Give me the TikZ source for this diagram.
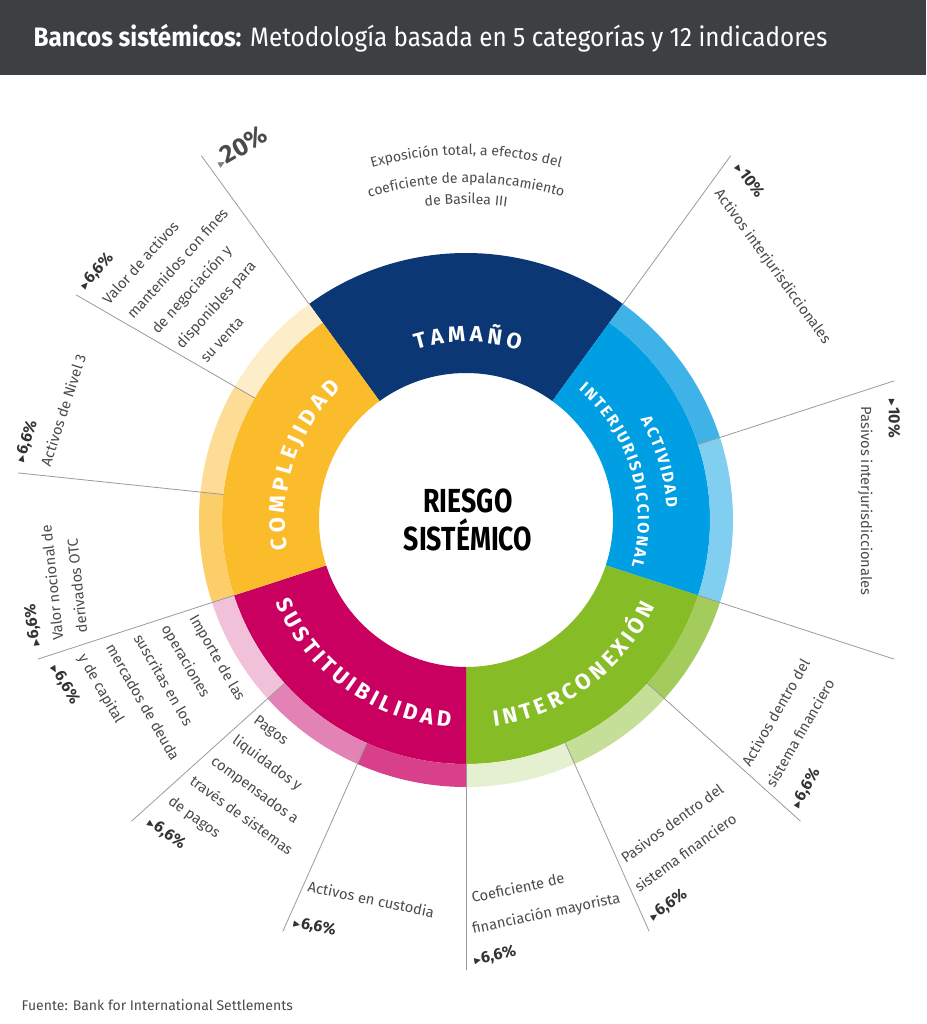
\documentclass[tikz,border=0pt]{standalone}
\usepackage{fontspec}
\usepackage{amssymb}
\setmainfont{Fira Sans}
\newfontfamily\titlefont[FakeStretch=0.91]{Fira Sans}
\newfontfamily\narrowfont[FakeStretch=0.8]{Fira Sans}
\usetikzlibrary{decorations.text}
\definecolor{barra}{HTML}{3D4043}
\definecolor{tamano}{HTML}{0C3775}
\definecolor{activ}{HTML}{009FE3}
\definecolor{activA}{HTML}{3FB2E8}
\definecolor{activB}{HTML}{80CEF0}
\definecolor{inter}{HTML}{86BC25}
\definecolor{interA}{HTML}{A3CC5C}
\definecolor{interB}{HTML}{C5DF99}
\definecolor{interC}{HTML}{E4F0D0}
\definecolor{sust}{HTML}{C9005F}
\definecolor{sustA}{HTML}{D9408C}
\definecolor{sustB}{HTML}{E383B5}
\definecolor{sustC}{HTML}{F0C1D9}
\definecolor{compl}{HTML}{FBBC2C}
\definecolor{complA}{HTML}{FCCE6A}
\definecolor{complB}{HTML}{FDDD95}
\definecolor{complC}{HTML}{FEEDC9}
\definecolor{texto}{HTML}{4A4A4A}
\definecolor{oscuro}{HTML}{333333}
\definecolor{linea}{HTML}{9A9A9A}
\newcommand\porc[1]{{\color{oscuro}\footnotesize$\blacktriangleright$}{\color{oscuro}\bfseries\fontsize{12}{13}\selectfont #1}}
\newcommand\catfmt{\fontsize{16.5}{17}\selectfont\bfseries\color{white}\kern3pt}
\newcommand\catfmtb{\fontsize{12}{14}\selectfont\bfseries\color{white}\kern1.5pt}
% #1 nombre, #2 angulo, #3 giro, #4 radio inicial, #5 paso, #6 renglones
\newcommand\etiq[6]{%
  \foreach \t [count=\k] in {#6}
    \node[desc,rotate=#3] (#1-\k) at ({#2}:{#4+#5*(\k-1)}) {\t};%
}

\begin{document}
\begin{tikzpicture}[x=0.75pt,y=0.75pt,line join=round,line cap=round,
  desc/.style={font=\fontsize{11}{13}\selectfont,text=texto,anchor=base west,inner sep=0pt},
  guia/.style={draw=linea,line width=0.6pt},
  cat/.style={decorate,decoration={text along path,text align=center,text={|\catfmt|#1}}},
  catb/.style={decorate,decoration={text along path,text align=center,text={|\catfmtb|#1}}},
  curvo/.style={decorate,decoration={text along path,text align=center,text={|\fontsize{10.5}{12}\selectfont\color{texto}|#1}}}]
\def\rin{147} % radio interior
\def\rmed{244} % anillo principal
\def\rout{267} % radio exterior
\def\rlin{450} % fin de las lineas
\useasboundingbox (-466,-504) rectangle (460,520);
% barra del titulo
\fill[barra] (-466,445) rectangle (460,520);
\node[anchor=west,text=white,font=\titlefont\fontsize{20}{24}\selectfont] (titulo) at (-437,482) {\textbf{Bancos sistémicos:} Metodología basada en 5 categorías y 12 indicadores};
% anillo principal
\foreach \s/\e/\c/\ra in {54/126/tamano/\rout, -18/54/activ/\rmed, -90/-18/inter/\rmed, -162/-90/sust/\rmed, 126/198/compl/\rmed}
  \fill[\c] (\s:\rin) arc[start angle=\s,end angle=\e,radius=\rin] -- (\e:\ra) arc[start angle=\e,end angle=\s,radius=\ra] -- cycle;
% bandas exteriores
\foreach \s/\e/\c in {18/54/activA, -18/18/activB, -42/-18/interA, -66/-42/interB, -90/-66/interC, -114/-90/sustA, -138/-114/sustB, -162/-138/sustC, 174/198/complA, 150/174/complB, 126/150/complC}
  \fill[\c] (\s:\rmed) arc[start angle=\s,end angle=\e,radius=\rmed] -- (\e:\rout) arc[start angle=\e,end angle=\s,radius=\rout] -- cycle;
% lineas guia
\foreach \a [count=\i] in {150,174,198,222,246,270,294,318,342,18}{
  \path (\a:\rmed) coordinate (g\i) (\a:\rlin) coordinate (h\i);
  \draw[guia] (g\i) -- (h\i);
}
\path (126:\rout) coordinate (g11) (126:\rlin) coordinate (h11)
  (54:\rout) coordinate (g12) (54:\rlin) coordinate (h12);
\draw[guia] (g11) -- (h11) (g12) -- (h12);
% centro
\node[font=\narrowfont\bfseries\fontsize{25}{29}\selectfont,align=center,text=black] (centro) at (2,0) {RIESGO\\SISTÉMICO};
% categorias
\path[cat=TAMAÑO] (126:178) arc[start angle=126,end angle=54,radius=178];
\path[cat=COMPLEJIDAD] (198:181) arc[start angle=198,end angle=126,radius=181];
\path[cat=SUSTITUIBILIDAD] (198:208) arc[start angle=198,end angle=270,radius=208];
\path[cat=INTERCONEXIÓN] (270:208) arc[start angle=270,end angle=342,radius=208];
\path[catb=ACTIVIDAD] (53:201) arc[start angle=53,end angle=-19,radius=201];
\path[catb=INTERJURISDICCIONAL] (56:172) arc[start angle=56,end angle=-22,radius=172];
% texto de tamano
\path[curvo={Exposición total, a efectos del}] (150:365) arc[start angle=150,end angle=30,radius=365];
\path[curvo={coeficiente de apalancamiento}] (150:337) arc[start angle=150,end angle=30,radius=337];
\path[curvo={de Basilea III}] (150:316) arc[start angle=150,end angle=30,radius=316];
\node[rotate=30,anchor=south west,inner sep=0pt] (p20) at (-246,350) {{\color{gray}\footnotesize$\blacktriangleright$}{\color{texto}\bfseries\fontsize{19}{19}\selectfont 20\%}};
% indicadores de arriba
\etiq{valor}{149}{48}{445}{-28.5}{\porc{6,6\%}, Valor de activos, mantenidos con fines, de negociación y, disponibles para, su venta}
\etiq{nivel}{172.8}{72}{446}{-27}{\porc{6,6\%}, Activos de Nivel 3}
\etiq{nocional}{196.6}{96}{445}{-25}{\porc{6,6\%}, Valor nocional de, derivados OTC}
\etiq{actint}{52.8}{-54}{443}{-33}{\porc{10\%}, Activos interjurisdiccionales}
\etiq{pasint}{16}{-90}{440}{-29}{\porc{10\%}, Pasivos interjurisdiccionales}
% indicadores de abajo
\etiq{importe}{199.5}{-60}{294}{29.5}{Importe de las, operaciones, suscritas en los, mercados de deuda, y de capital, \porc{6,6\%}}
\etiq{pagos}{223.5}{-36}{294}{29.5}{Pagos, liquidados y, compensados a, través de sistemas, de pagos, \porc{6,6\%}}
\etiq{custodia}{246.8}{-12}{404}{38}{Activos en custodia, \porc{6,6\%}}
\etiq{coef}{271}{12}{383}{31}{Coeficiente de, financiación mayorista, \porc{6,6\%}}
\etiq{pasfin}{294.9}{36}{379}{32}{Pasivos dentro del, sistema financiero, \porc{6,6\%}}
\etiq{actfin}{318.9}{60}{377}{32}{Activos dentro del, sistema financiero, \porc{6,6\%}}
% fuente
\node[anchor=base west,text=texto,font=\fontsize{10.5}{12}\selectfont] (fuente) at (-449,-490) {Fuente: Bank for International Settlements};
\end{tikzpicture}
\end{document}
